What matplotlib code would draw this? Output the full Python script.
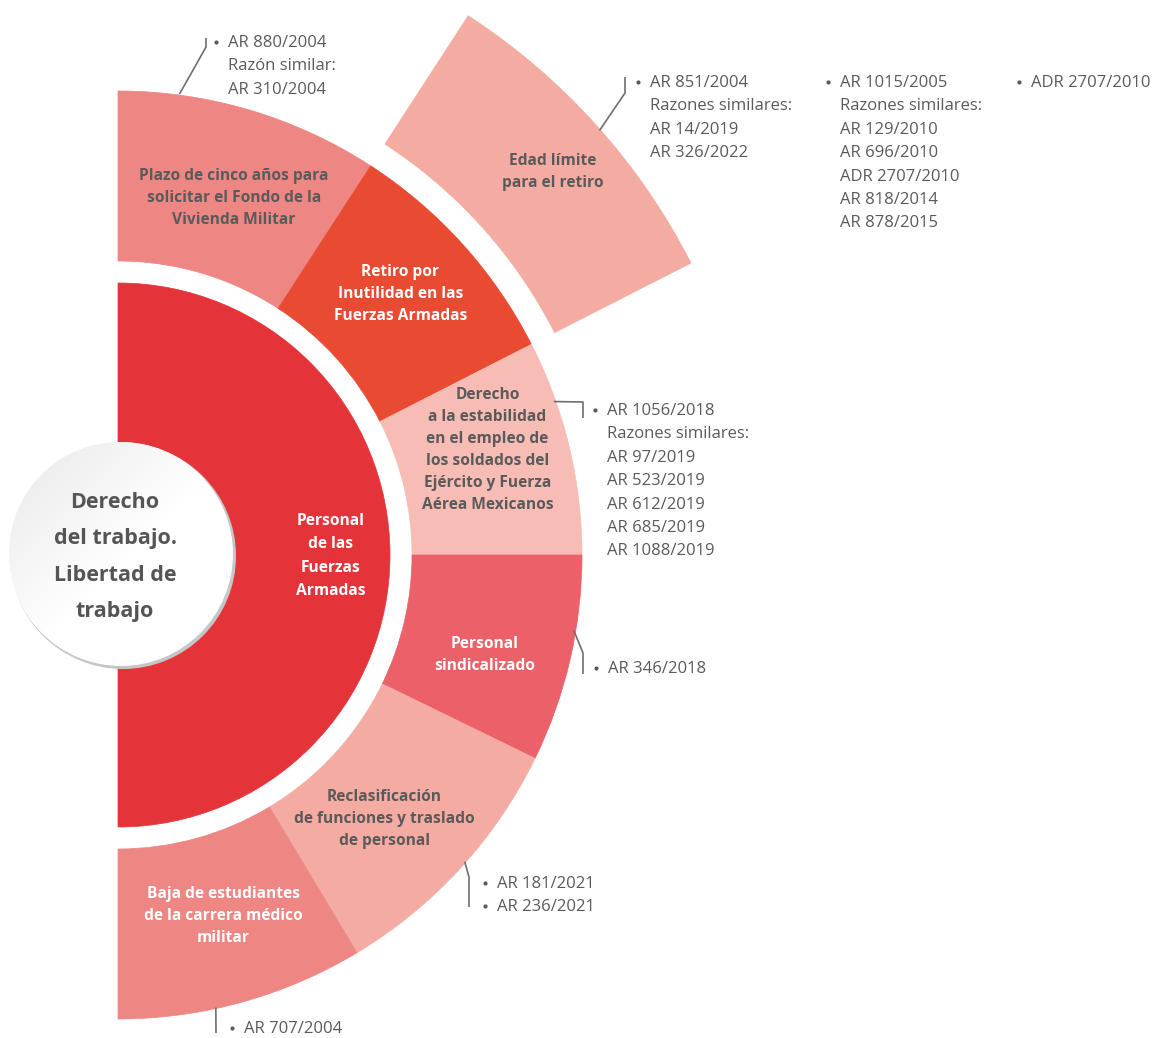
import numpy as np
import matplotlib
matplotlib.use('Agg')
import matplotlib.pyplot as plt
from matplotlib.patches import Wedge, Circle

plt.rcParams['font.family'] = ['Open Sans', 'DejaVu Sans']

# ---- data -------------------------------------------------------------
centre_label = 'Derecho\ndel trabajo.\nLibertad de\ntrabajo'
core_label = 'Personal\nde las\nFuerzas\nArmadas'

ring_labels = [
    'Plazo de cinco años para\nsolicitar el Fondo de la\nVivienda Militar',
    'Retiro por\nInutilidad en las\nFuerzas Armadas',
    'Derecho\na la estabilidad\nen el empleo de\nlos soldados del\nEjército y Fuerza\nAérea Mexicanos',
    'Personal\nsindicalizado',
    'Reclasificación\nde funciones y traslado\nde personal',
    'Baja de estudiantes\nde la carrera médico\nmilitar',
]
ring_spans = [33, 30, 27, 26, 33, 31]   # degrees, top to bottom

outer_label = 'Edad límite\npara el retiro'
outer_parent = 1                        # child of "Retiro por Inutilidad"

refs_plazo = ['• AR 880/2004', 'Razón similar:', 'AR 310/2004']
refs_edad_1 = ['• AR 851/2004', 'Razones similares:', 'AR 14/2019', 'AR 326/2022']
refs_edad_2 = ['• AR 1015/2005', 'Razones similares:', 'AR 129/2010', 'AR 696/2010',
               'ADR 2707/2010', 'AR 818/2014', 'AR 878/2015']
refs_edad_3 = ['• ADR 2707/2010']
refs_derecho = ['• AR 1056/2018', 'Razones similares:', 'AR 97/2019', 'AR 523/2019',
                'AR 612/2019', 'AR 685/2019', 'AR 1088/2019']
refs_sind = ['• AR 346/2018']
refs_reclas = ['• AR 181/2021', '• AR 236/2021']
refs_baja = ['• AR 707/2004']

# ---- style ------------------------------------------------------------
core_color = '#E4343A'
ring_colors = ['#EE8683', '#E84A32', '#F7BDB5', '#EC606A', '#F4ACA2', '#EE8683']
ring_text = ['#5a5a5a', 'white', '#5a5a5a', 'white', '#5a5a5a', 'white']
outer_color = '#F4ACA2'
grey = '#5a5a5a'
line_grey = '#6e6e6e'

W, H = 1160, 1038
CX, CY = 118, 555
R_CORE = 272
R1_IN, R1_OUT = 294, 464
R2_IN, R2_OUT = 490, 643


def pt(r, a):
    a = np.radians(a)
    return CX + r * np.cos(a), CY - r * np.sin(a)


def wedge(ax, r_in, r_out, a1, a2, color):
    # visual angles (counter-clockwise); y axis is inverted
    ax.add_patch(Wedge((CX, CY), r_out, -a2, -a1, width=r_out - r_in,
                       facecolor=color, edgecolor=color, lw=0.5))


fig = plt.figure(figsize=(W / 100, H / 100), dpi=100)
ax = fig.add_axes([0, 0, 1, 1])
ax.set_xlim(0, W)
ax.set_ylim(H, 0)
ax.axis('off')

# core half disc
wedge(ax, 0, R_CORE, -90, 90, core_color)
ax.text(331, 556, core_label, ha='center', va='center', color='white',
        fontsize=11.2, fontweight='bold', linespacing=1.62)

# first ring
bounds = 90 - np.concatenate([[0], np.cumsum(ring_spans)])
label_off = [(8, 7), (0, -7), (0, -16), (-4, 15), (-14, 7), (4, -5)]
for i, lab in enumerate(ring_labels):
    a_top, a_bot = bounds[i], bounds[i + 1]
    wedge(ax, R1_IN, R1_OUT, a_bot, a_top, ring_colors[i])
    x, y = pt(380, (a_top + a_bot) / 2)
    ax.text(x + label_off[i][0], y + label_off[i][1], lab, ha='center', va='center',
            color=ring_text[i], fontsize=11.2, fontweight='bold', linespacing=1.5)

# outer ring
a_top, a_bot = bounds[outer_parent], bounds[outer_parent + 1]
wedge(ax, R2_IN, R2_OUT, a_bot, a_top, outer_color)
x, y = pt(560, (a_top + a_bot) / 2)
ax.text(x + 19, y - 8, outer_label, ha='center', va='center', color=grey,
        fontsize=11.2, fontweight='bold', linespacing=1.5)

# centre circle with soft gradient
cx0, cy0, rc = 120, 553, 112
ax.add_patch(Circle((cx0 + 3, cy0 + 3), rc + 1, facecolor='#c6c6c6', edgecolor='none'))
ax.add_patch(Circle((cx0 + 1, cy0 + 1), rc, facecolor='white', edgecolor='none'))
xs = np.linspace(cx0 - rc, cx0 + rc, 200)
ys = np.linspace(cy0 - rc, cy0 + rc, 200)
gx, gy = np.meshgrid(xs, ys)
t = ((gx - (cx0 - rc)) + (gy - (cy0 - rc))) / (4 * rc)
v = 0.91 + 0.09 * np.clip(t * 1.9, 0, 1)
img = ax.imshow(np.dstack([v, v, v]), extent=(cx0 - rc, cx0 + rc, cy0 + rc, cy0 - rc),
                origin='upper', zorder=3, interpolation='bilinear')
clip = Circle((cx0, cy0), rc - 1, transform=ax.transData)
img.set_clip_path(clip)
ax.set_xlim(0, W)
ax.set_ylim(H, 0)
ax.text(cx0 - 5, cy0 + 4, centre_label, ha='center', va='center', color='#555555',
        fontsize=15.5, fontweight='bold', linespacing=1.96, zorder=4)


# reference blocks
def refs(lines, x_text, y_first, step=23.4):
    for k, s in enumerate(lines):
        y = y_first + k * step
        if s.startswith('• '):
            ax.plot(x_text - 12, y - 1.5, 'o', color=grey, ms=3, mew=0)
            s = s[2:]
        ax.text(x_text, y, s, ha='left', va='center', color=grey, fontsize=12)


def leader(a, r, pts):
    x0, y0 = pt(r, a)
    xs_ = [x0] + [p[0] for p in pts]
    ys_ = [y0] + [p[1] for p in pts]
    ax.plot(xs_, ys_, color=line_grey, lw=1.2, solid_capstyle='butt')


refs(refs_plazo, 228, 43)
leader(82.4, R1_OUT + 1, [(206, 47), (206, 38)])

refs(refs_edad_1, 650, 83)
refs(refs_edad_2, 840, 83)
refs(refs_edad_3, 1031, 83)
leader(41.4, R2_OUT - 1, [(625, 93), (625, 77)])

refs(refs_derecho, 607, 411)
leader(19.4, R1_OUT - 2, [(583, 402), (583, 418)])

refs(refs_sind, 608, 669)
leader(-9.4, R1_OUT - 2, [(583, 653), (583, 674)])

refs(refs_reclas, 497, 884)
leader(-41.5, R1_OUT - 1, [(469, 877), (469, 907)])

refs(refs_baja, 244, 1029)
leader(-77.8, R1_OUT - 1, [(216, 1033)])

fig.savefig('out.png', dpi=100)
